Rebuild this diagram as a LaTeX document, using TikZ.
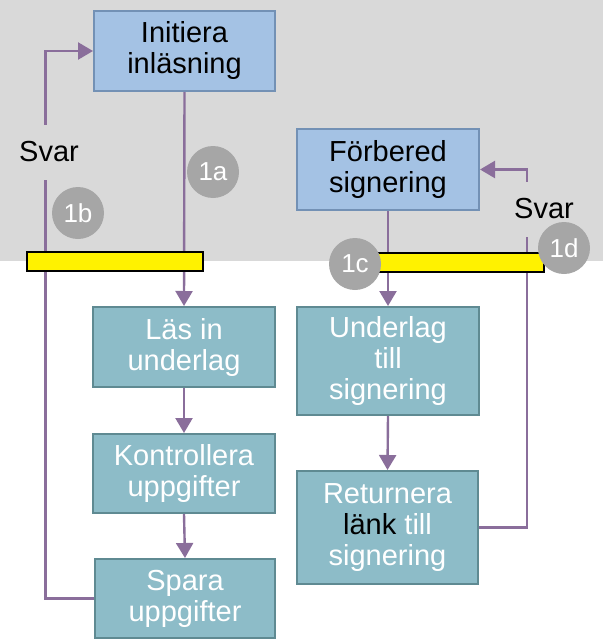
\documentclass[tikz,border=0pt]{standalone}
\usepackage{fontspec}
\setmainfont{Liberation Sans}
\usetikzlibrary{arrows.meta}
\definecolor{bggray}{HTML}{D9D9D9}
\definecolor{bluefill}{HTML}{A4C2E4}
\definecolor{blueedge}{HTML}{7391B5}
\definecolor{tealfill}{HTML}{8DBCC8}
\definecolor{tealedge}{HTML}{5F8A92}
\definecolor{flow}{HTML}{8A6E9B}
\definecolor{badge}{HTML}{A6A6A6}
\tikzset{
  boxbase/.style={rectangle, line width=2pt, align=center, inner sep=0pt,
    font=\fontsize{29}{31}\selectfont},
  bluebox/.style={boxbase, fill=bluefill, draw=blueedge, text=black},
  tealbox/.style={boxbase, fill=tealfill, draw=tealedge, text=white},
  flowline/.style={draw=flow, line width=2.4pt},
  flowarrow/.style={flowline, -{Triangle[length=15pt,width=17pt]}},
  svarlabel/.style={fill=bggray, inner sep=1pt, minimum height=55pt, font=\fontsize{29}{31}\selectfont},
  badgenode/.style={circle, fill=badge, text=white, minimum size=52pt, inner sep=0pt, font=\fontsize{26}{28}\selectfont},
  bar/.style={fill=yellow, draw=black, line width=1.8pt}
}
\begin{document}
\begin{tikzpicture}[x=1pt,y=-1pt]
\useasboundingbox (0,0) rectangle (603,642);
\fill[bggray] (0,0) rectangle (603,261);
% boxes
\node[bluebox, minimum width=181pt, minimum height=80pt] (init) at (184.5,51) {Initiera\\inläsning};
\node[tealbox, minimum width=182pt, minimum height=80pt] (lasin) at (184,347) {Läs in\\underlag};
\node[tealbox, minimum width=182pt, minimum height=79pt] (kontr) at (184,473.5) {Kontrollera\\uppgifter};
\node[tealbox, minimum width=180pt, minimum height=79pt] (spara) at (185,598.5) {Spara\\uppgifter};
\node[bluebox, minimum width=182pt, minimum height=81pt] (forb) at (388,169.5) {Förbered\\signering};
\node[tealbox, minimum width=182pt, minimum height=108pt] (underlag) at (388,361) {Underlag\\till\\signering};
\node[tealbox, minimum width=181pt, minimum height=113pt] (retur) at (387.5,527.5) {Returnera\\\textcolor{black}{länk} till\\signering};
% connectors
\draw[flowarrow] (init.south) -- (lasin.north);
\draw[flowarrow] (lasin.south) -- (kontr.north);
\draw[flowarrow] (kontr.south) -- (spara.north);
\draw[flowarrow] (forb.south) -- (underlag.north);
\draw[flowarrow] (underlag.south) -- (retur.north);
\coordinate (lc) at (45.5,598.5);
\draw[flowarrow] (spara.west) -- (lc) |- (init.west);
\coordinate (rc) at (527,527.5);
\draw[flowarrow] (retur.east) -- (rc) |- (forb.east);
\node[svarlabel] (svarl) at (49,152) {Svar};
\node[svarlabel] (svarr) at (544,209) {Svar};
% yellow bars
\draw[bar] (27,252) rectangle (203,271);
\draw[bar] (377,253) rectangle (544,272);
% badges
\node[badgenode] (b1a) at (213,172) {1a};
\node[badgenode] (b1b) at (78,213) {1b};
\node[badgenode] (b1c) at (355,264) {1c};
\node[badgenode] (b1d) at (564,248) {1d};
\end{tikzpicture}
\end{document}
